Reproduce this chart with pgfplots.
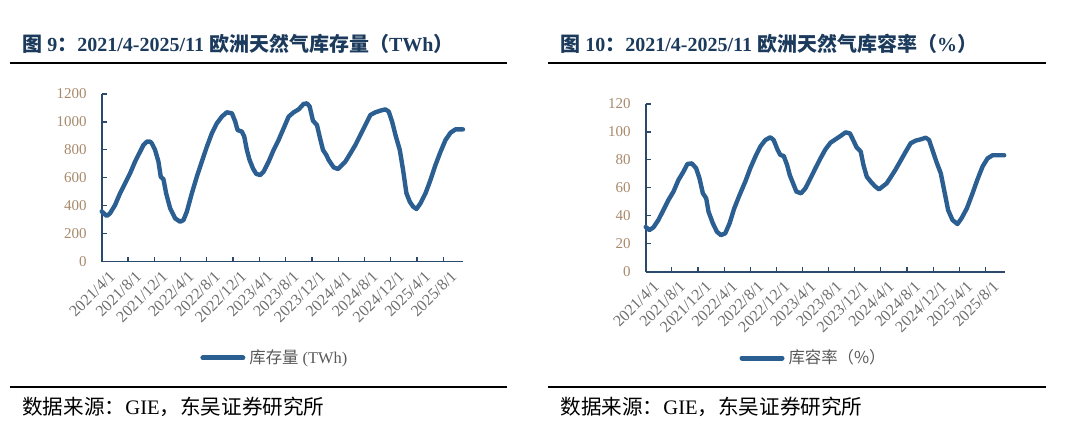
\documentclass[border=0pt]{standalone}
\usepackage{fontspec}
\setmainfont{Liberation Serif}
\newfontfamily\cjk{Noto Sans CJK SC}
\usepackage{pgfplots}
\pgfplotsset{compat=1.18}

\definecolor{linecol}{HTML}{2C5F91}
\definecolor{axiscol}{HTML}{2B4A6B}
\definecolor{titlecol}{HTML}{1B3A5C}
\definecolor{ycol}{HTML}{A8896B}
\definecolor{xcol}{HTML}{6E6E6E}
\definecolor{legcol}{HTML}{595959}

\pgfplotsset{
  gas/.style={
    scale only axis,
    axis x line=bottom, axis y line=left,
    axis line style={draw=axiscol, line width=0.8pt, -},
    tick style={draw=axiscol, line width=0.6pt},
    tick align=inside, major tick length=2.5pt,
    xmin=0, xmax=55,
    xtick={0,4,...,52},
    xticklabels={2021/4/1,2021/8/1,2021/12/1,2022/4/1,2022/8/1,2022/12/1,2023/4/1,2023/8/1,2023/12/1,2024/4/1,2024/8/1,2024/12/1,2025/4/1,2025/8/1},
    xticklabel style={rotate=45, anchor=east, text=xcol, font=\fontsize{8}{8}\selectfont, yshift=-8pt, xshift=3pt},
    yticklabel style={text=ycol, font=\fontsize{7.5}{8}\selectfont, xshift=-4pt},
    /pgf/number format/assume math mode=true,
    /pgf/number format/1000 sep={},
    clip=false,
    legend style={draw=none, fill=none, inner sep=0pt, anchor=west,
      font=\fontsize{8.2}{9}\selectfont, text=legcol},
    legend image code/.code={\draw[#1, line width=2.5pt, line cap=round] (0pt,0pt) -- (20pt,0pt);},
  },
  gasline/.style={draw=linecol, line width=2.2pt, line join=round, line cap=round, no marks},
}

\begin{document}
\begin{tikzpicture}
\path[use as bounding box] (0,0) rectangle (540pt,214pt);

% titles and rules
\node[anchor=base west, text=titlecol, font=\fontsize{10}{11}\selectfont\bfseries, inner sep=0pt]
  at (11pt,188pt) {{\cjk 图} 9{\cjk ：}2021/4-2025/11 {\cjk 欧洲天然气库存量（}TWh{\cjk ）}};
\node[anchor=base west, text=titlecol, font=\fontsize{10}{11}\selectfont\bfseries, inner sep=0pt]
  at (280pt,188pt) {{\cjk 图} 10{\cjk ：}2021/4-2025/11 {\cjk 欧洲天然气库容率（}\%{\cjk ）}};
\draw[line width=1pt] (5pt,182.35pt) -- (253.5pt,182.35pt);
\draw[line width=1pt] (274pt,182.35pt) -- (523pt,182.35pt);
\draw[line width=1.2pt] (5pt,20.5pt) -- (253.5pt,20.5pt);
\draw[line width=1.2pt] (274pt,20.5pt) -- (523pt,20.5pt);
\node[anchor=base west, font=\fontsize{10.3}{11}\selectfont, inner sep=0pt]
  at (11pt,7pt) {{\cjk 数据来源：}GIE{\cjk ，东吴证券研究所}};
\node[anchor=base west, font=\fontsize{10.3}{11}\selectfont, inner sep=0pt]
  at (280pt,7pt) {{\cjk 数据来源：}GIE{\cjk ，东吴证券研究所}};

\begin{axis}[gas,
  at={(50.85pt,83.15pt)}, anchor=south west,
  width=180.65pt, height=83.85pt,
  ymin=0, ymax=1200, ytick={0,200,...,1200},
  legend style={at={(0.272,-0.574)}},
]
\addplot[gasline] coordinates {
(0.00,360)(0.76,327)(1.27,346)(2.03,405)(2.79,489)(3.56,561)(4.32,632)(5.08,716)
(5.84,787)(6.35,835)(6.86,859)(7.37,859)(7.62,847)(8.13,799)(8.64,716)(8.99,608)
(9.40,590)(9.81,489)(10.42,382)(11.18,310)(11.94,286)(12.45,298)(12.96,358)(13.72,489)
(14.48,608)(15.24,716)(16.01,823)(16.77,919)(17.53,990)(18.29,1038)(19.05,1069)(19.82,1062)
(20.33,1002)(20.68,942)(21.34,931)(21.70,895)(22.10,799)(22.51,728)(23.02,668)(23.53,628)
(24.14,620)(24.64,644)(25.41,716)(26.17,799)(26.93,871)(27.69,954)(28.46,1038)(29.22,1069)
(29.98,1090)(30.74,1129)(31.25,1133)(31.66,1110)(32.16,1009)(32.77,978)(33.18,895)(33.69,799)
(34.20,763)(34.55,728)(35.31,675)(35.98,663)(36.59,692)(37.09,716)(37.86,775)(38.62,835)
(39.38,907)(40.14,978)(40.90,1050)(41.67,1069)(42.43,1081)(43.19,1090)(43.70,1074)(44.21,1002)
(44.72,907)(45.38,799)(45.88,656)(46.39,489)(46.90,429)(47.41,394)(47.92,377)(48.53,418)
(49.29,489)(50.05,585)(50.81,692)(51.58,787)(52.34,871)(53.10,923)(53.86,947)(55.00,947)
};
\legend{{\cjk 库存量} (TWh)}
\end{axis}

\begin{axis}[gas,
  at={(322.85pt,78.15pt)}, anchor=south west,
  width=179.65pt, height=83.85pt,
  ymin=0, ymax=120, ytick={0,20,...,120},
  legend style={at={(0.26,-0.515)}},
]
\addplot[gasline] coordinates {
(0.00,32)(0.56,29.8)(1.18,31.7)(1.94,37.0)(2.71,44.1)(3.48,51.3)(4.25,57.3)(5.01,65.6)
(5.78,71.6)(6.39,77.1)(7.06,77.5)(7.72,74.0)(8.23,66.8)(8.75,56.1)(9.26,52.5)(9.62,42.9)
(10.28,34.6)(10.90,28.6)(11.51,26.2)(12.17,27.4)(12.84,34.6)(13.55,45.3)(14.37,54.9)(15.24,64.4)
(16.01,74.0)(16.78,82.3)(17.54,89.5)(18.31,94.2)(19.08,96.2)(19.59,94.2)(20.20,87.1)(20.61,83.5)
(21.13,82.8)(21.64,76.4)(22.05,69.2)(22.56,63.2)(23.07,57.3)(23.78,56.1)(24.45,59.7)(25.22,66.8)
(25.98,74.0)(26.75,81.1)(27.52,87.6)(28.29,92.3)(29.05,94.7)(29.82,97.1)(30.59,99.7)(31.25,99.0)
(31.76,94.2)(32.28,89.0)(32.92,85.9)(33.33,76.4)(33.84,68.0)(34.46,64.4)(35.07,61.3)(35.70,58.9)
(36.22,60.8)(36.88,63.2)(37.49,67.5)(38.26,73.2)(39.03,79.5)(39.80,85.9)(40.56,91.9)(41.33,93.8)
(42.10,94.7)(42.86,95.9)(43.38,94.2)(43.89,87.1)(44.55,78.0)(45.17,70.4)(45.68,58.5)(46.29,44.1)
(46.96,37.0)(47.72,34.1)(48.34,38.2)(49.16,45.3)(50.03,56.1)(50.79,66.1)(51.56,75.2)(52.33,81.1)
(53.09,83.3)(54.88,83.3)
};
\legend{{\cjk 库容率（\%）}}
\end{axis}
\end{tikzpicture}
\end{document}
